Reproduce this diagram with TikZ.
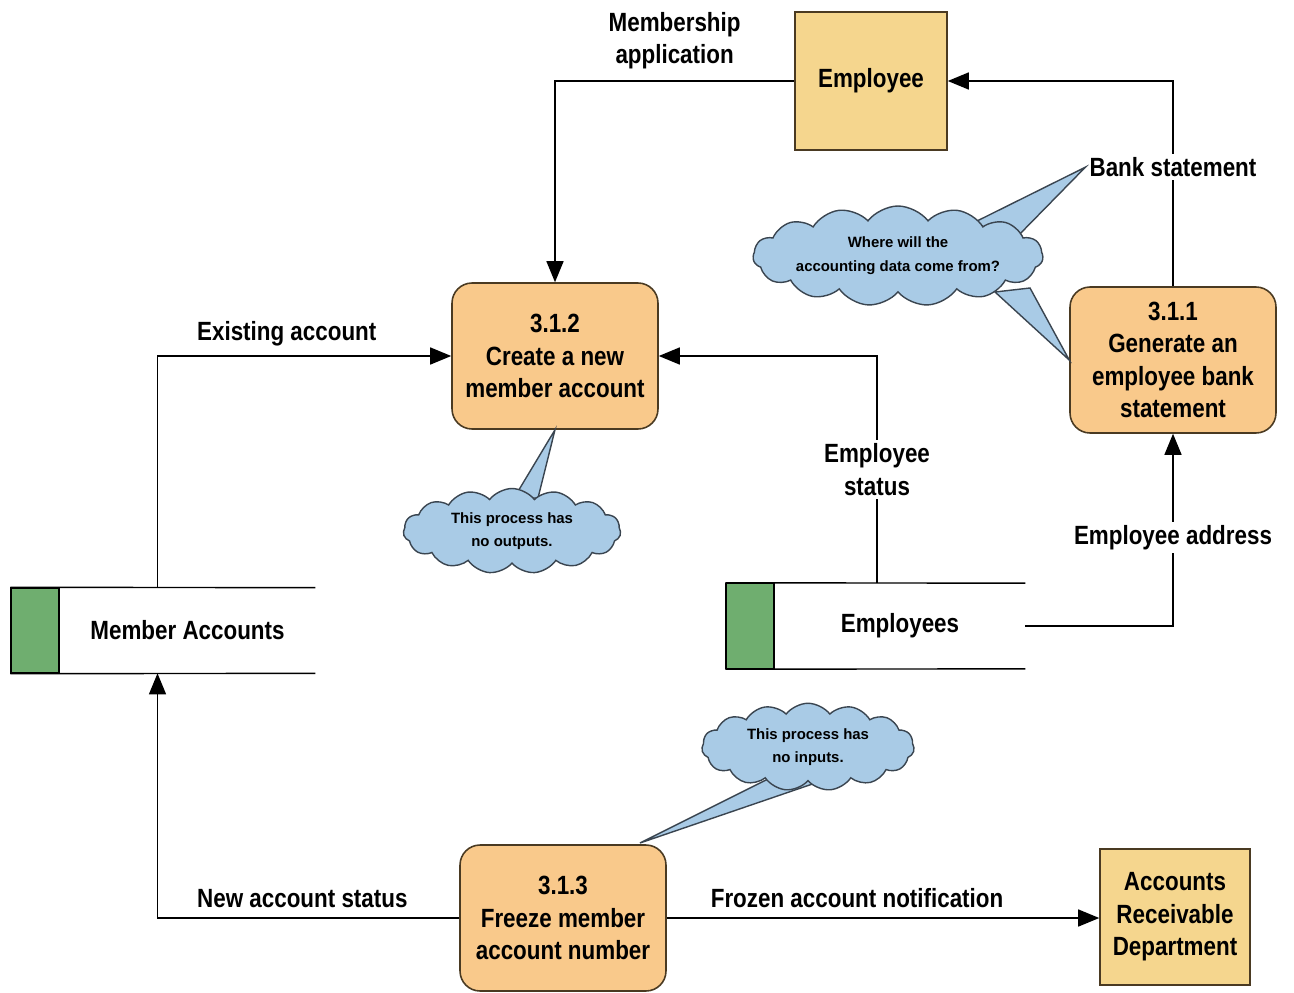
\documentclass[tikz,border=0pt]{standalone}
\usepackage{fontspec}
\setmainfont{Liberation Sans}[FakeStretch=0.85]
\newfontfamily\notefont{Liberation Sans}
\usepackage{xcolor}
\usetikzlibrary{shapes.symbols, arrows.meta, positioning}

\definecolor{procfill}{HTML}{F9C98B}
\definecolor{extfill}{HTML}{F5D68E}
\definecolor{edgebrown}{HTML}{4A3A22}
\definecolor{storegreen}{HTML}{6FAE6F}
\definecolor{cloudblue}{HTML}{A9CBE6}
\definecolor{cloudedge}{HTML}{3A4550}

\begin{document}
\begin{tikzpicture}[
    x=0.02cm, y=-0.02cm,
    font=\fontsize{15}{18.5}\selectfont\bfseries,
    proc/.style={rectangle, draw=edgebrown, line width=0.9pt, rounded corners=0.4cm, fill=procfill, align=center, minimum width=4.12cm, minimum height=2.92cm},
    ext/.style={rectangle, draw=edgebrown, line width=0.9pt, fill=extfill, align=center},
    store/.style={rectangle, minimum width=5.1cm, minimum height=1.7cm},
    storeid/.style={rectangle, draw=black, line width=0.8pt, fill=storegreen, minimum width=0.96cm, minimum height=1.7cm, anchor=east},
    note/.style={cloud, cloud puffs=15, cloud puff arc=105, cloud ignores aspect, draw=cloudedge, line width=0.8pt, fill=cloudblue, align=center, inner sep=0pt, font=\notefont\fontsize{8.5}{13.5}\selectfont\bfseries},
    tail/.style={draw=cloudedge, line width=0.8pt, fill=cloudblue},
    arr/.style={-{Triangle[length=0.42cm, width=0.34cm]}, line width=0.8pt},
    flow/.style={fill=white, align=center, inner sep=2pt},
]
    \useasboundingbox (0,0) rectangle (1294,993);

    % externals and processes
    \node[ext, minimum width=3.04cm, minimum height=2.76cm] (emp) at (871,81) {Employee};
    \node[proc] (p312) at (555,356) {3.1.2\\Create a new\\member account};
    \node[proc] (p311) at (1173,360) {3.1.1\\Generate an\\employee bank\\statement};
    \node[proc] (p313) at (563,918) {3.1.3\\Freeze member\\account number};
    \node[ext, minimum width=3.0cm, minimum height=2.72cm] (ard) at (1175,917) {Accounts\\Receivable\\Department};

    % data stores
    \node[store] (macc) at (187.5,630.5) {Member Accounts};
    \node[storeid] (maccid) at (macc.west) {};
    \draw[line width=0.8pt] (maccid.north west) -- (macc.north east) (maccid.south west) -- (macc.south east);
    \node[store, minimum width=5cm] (emps) at (900,626) {Employees};
    \node[storeid] (empsid) at (emps.west) {};
    \draw[line width=0.8pt] (empsid.north west) -- (emps.north east) (empsid.south west) -- (emps.south east);

    % flows
    \draw[arr] (emp.west) -| node[pos=0.25, above=3pt, align=center] {Membership\\application} (p312.north);
    \draw[arr] ([xshift=-0.6cm]macc.north) |- node[pos=0.72, above=2pt] {Existing account} (p312.west);
    \draw[arr] ([xshift=-0.46cm]emps.north) |- node[pos=0.25, flow] {Employee\\status} (p312.east);
    \draw[arr] (p311.north) |- node[pos=0.29, flow] (bslbl) {Bank statement} (emp.east);
    \draw[arr] (emps.east) -| node[pos=0.73, flow] {Employee address} (p311.south);
    \draw[arr] (p313.west) -| node[pos=0.26, above=2pt] {New account status} ([xshift=-0.6cm]macc.south);
    \draw[arr] (p313.east) -- node[pos=0.44, above=2pt] {Frozen account notification} (p313.east -| ard.west);

    % notes
    \draw[tail] (975,222) -- (bslbl.west) -- (1012,242) -- cycle;
    \draw[tail] (995,292) -- (p311.west) -- (1030,288) -- cycle;
    \draw[tail] (514,498) -- (p312.south) -- (538,498) -- cycle;
    \draw[tail] (770,778) -- (640,843) -- (830,778) -- cycle;
    \node[note, minimum width=5.8cm, minimum height=2.0cm] (q1) at (898,256) {Where will the\\accounting data come from?};
    \node[note, minimum width=4.35cm, minimum height=1.7cm] (q2) at (512,531) {This process has\\no outputs.};
    \node[note, minimum width=4.25cm, minimum height=1.75cm] (q3) at (808,747) {This process has\\no inputs.};
\end{tikzpicture}
\end{document}
